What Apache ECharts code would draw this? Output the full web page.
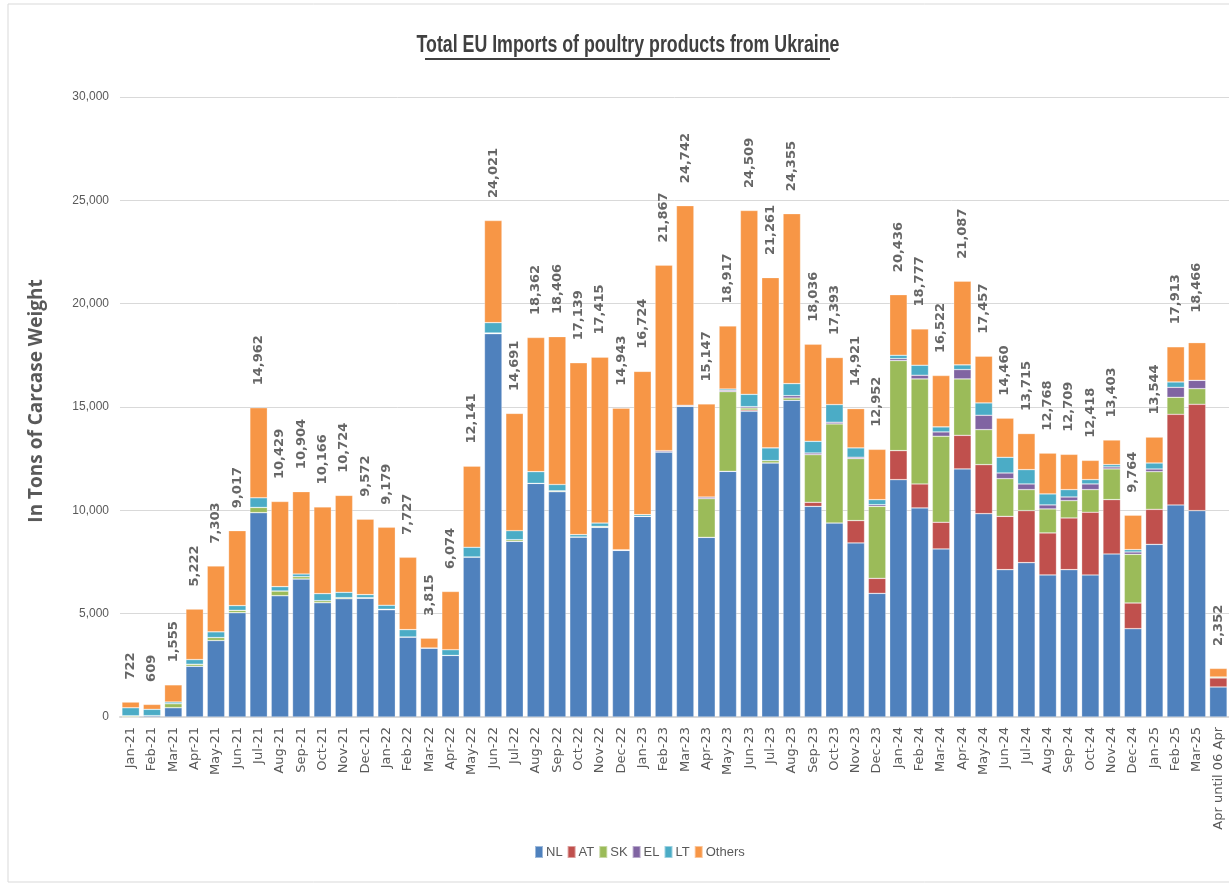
<!DOCTYPE html>
<html><head><meta charset="utf-8">
<script src="https://cdn.jsdelivr.net/npm/echarts@6/dist/echarts.min.js"></script>
<style>html,body{margin:0;padding:0;background:#fff}#c{width:1229px;height:886px}</style>
</head><body><div id="c"></div>
<script>
const categories = [
  'Jan-21','Feb-21','Mar-21','Apr-21','May-21','Jun-21','Jul-21','Aug-21','Sep-21','Oct-21','Nov-21','Dec-21',
  'Jan-22','Feb-22','Mar-22','Apr-22','May-22','Jun-22','Jul-22','Aug-22','Sep-22','Oct-22','Nov-22','Dec-22',
  'Jan-23','Feb-23','Mar-23','Apr-23','May-23','Jun-23','Jul-23','Aug-23','Sep-23','Oct-23','Nov-23','Dec-23',
  'Jan-24','Feb-24','Mar-24','Apr-24','May-24','Jun-24','Jul-24','Aug-24','Sep-24','Oct-24','Nov-24','Dec-24',
  'Jan-25','Feb-25','Mar-25','Apr until 06 Apr'
];
const totals = [
  722,609,1555,5222,7303,9017,14962,10429,10904,10166,10724,9572,
  9179,7727,3815,6074,12141,24021,14691,18362,18406,17139,17415,14943,
  16724,21867,24742,15147,18917,24509,21261,24355,18036,17393,14921,12952,
  20436,18777,16522,21087,17457,14460,13715,12768,12709,12418,13403,9764,
  13544,17913,18466,2352
];
const nl = [
  10,65,452,2456,3700,5050,9890,5871,6679,5533,5727,5745,
  5193,3872,3340,2981,7744,18552,8499,11306,10905,8712,9177,8063,
  9710,12826,15033,8693,11887,14791,12294,15324,10193,9390,8422,5982,
  11485,10116,8131,12003,9840,7129,7469,6873,7129,6873,7889,4274,
  8354,10261,9985,1452
];
const at = [
  0,0,0,0,0,0,0,0,0,0,0,0,
  0,0,0,0,0,0,0,0,0,0,0,0,
  0,0,0,0,0,60,0,0,194,0,1081,726,
  1404,1161,1291,1626,2372,2581,2517,2033,2501,3033,2630,1242,
  1694,4385,5145,436
];
const sk = [
  50,0,194,97,145,113,250,226,113,97,48,30,
  20,0,0,0,0,30,80,0,40,0,48,0,
  0,0,0,1872,3856,100,113,113,2307,4792,3001,3485,
  4356,5082,4162,2730,1694,1823,1016,1162,839,1097,1485,2356,
  1823,823,758,48
];
const el = [
  0,0,0,0,0,0,0,0,0,0,0,0,
  0,0,0,0,0,0,0,0,0,0,0,30,
  0,60,50,80,65,65,0,113,80,80,65,80,
  97,177,210,452,694,274,274,194,177,274,97,113,
  129,484,403,0
];
const lt = [
  387,306,80,226,275,226,468,210,129,339,258,145,
  194,355,0,274,468,500,436,565,306,113,160,0,
  80,0,0,0,65,597,613,581,565,855,452,242,
  161,484,242,226,597,758,694,532,355,210,113,113,
  290,258,0,0
];
const others = [
  275,238,829,2443,3183,3628,4354,4122,3983,4197,4691,3652,
  3772,3500,475,2819,3929,4939,5676,6491,7155,8314,8030,6850,
  6934,8981,9659,4502,3044,8896,8241,8224,4697,2276,1900,2437,
  2933,1757,2486,4050,2260,1895,1745,1974,1708,931,1189,1666,
  1254,1702,1823,416
];
const yTicks = [0,5000,10000,15000,20000,25000,30000];
const titleText = 'Total EU Imports of poultry products from Ukraine';

function fmt(v){ return String(Math.round(v)).replace(/\B(?=(\d{3})+(?!\d))/g, ','); }

const colors = {NL:'#4f81bd', AT:'#c0504d', SK:'#9bbb59', EL:'#8064a2', LT:'#4bacc6', Others:'#f79646'};
const seriesDefs = [['NL',nl],['AT',at],['SK',sk],['EL',el],['LT',lt],['Others',others]];

const chart = echarts.init(document.getElementById('c'), null, {renderer:'canvas'});
const series = seriesDefs.map(([name,data]) => ({
  name, type:'bar', stack:'total', data,
  barCategoryGap:'18%',
  itemStyle:{color:colors[name], borderColor:'rgba(255,255,255,0.45)', borderWidth:0.6},
  emphasis:{disabled:true}
}));
series.push({
  name:'Total', type:'scatter', data:totals, symbolSize:1,
  itemStyle:{color:'rgba(0,0,0,0)'},
  label:{show:true, position:'top', distance:22, rotate:90, align:'left', verticalAlign:'middle',
    formatter:p=>fmt(p.value), fontFamily:'DejaVu Sans', fontWeight:'bold', fontSize:13, color:'#404040'},
  emphasis:{disabled:true}, z:5
});

chart.setOption({
  animation:false,
  backgroundColor:'#ffffff',
  graphic:[
    {type:'rect', shape:{x:8,y:4,width:1240,height:878}, style:{fill:'none', stroke:'#d9d9d9', lineWidth:1}, silent:true},
    {type:'text', x:628, y:45, scaleX:0.74, silent:true,
      style:{text:titleText, fill:'#404040', font:'bold 24px "Liberation Sans", Arial, sans-serif',
        textAlign:'center', textVerticalAlign:'middle'}},
    {type:'line', shape:{x1:425,y1:59,x2:830,y2:59}, style:{stroke:'#404040', lineWidth:2}, silent:true}
  ],
  legend:{data:['NL','AT','SK','EL','LT','Others'], bottom:22, left:529, itemWidth:8, itemHeight:12, itemGap:4,
    icon:'rect', textStyle:{fontFamily:'Liberation Sans', fontSize:13, color:'#595959', padding:[0,0,0,-2]}},
  grid:{left:120, right:-4, top:97, bottom:169},
  xAxis:{type:'category', data:categories,
    axisLine:{lineStyle:{color:'#d9d9d9', width:2}}, axisTick:{show:false},
    axisLabel:{interval:0, rotate:90, margin:10, fontFamily:'DejaVu Sans', fontSize:13, color:'#595959'}},
  yAxis:{type:'value', min:yTicks[0], max:yTicks[yTicks.length-1], interval:yTicks[1]-yTicks[0],
    name:'In Tons of Carcase Weight', nameLocation:'middle', nameGap:74,
    nameTextStyle:{fontFamily:'Open Sans', fontWeight:'bold', fontSize:19, color:'#595959', padding:[0,0,0,12]},
    axisLine:{show:false}, axisTick:{show:false},
    splitLine:{lineStyle:{color:'#d9d9d9', width:1}},
    axisLabel:{formatter:v=>fmt(v), margin:11, fontFamily:'Liberation Sans', fontSize:12, color:'#595959'}},
  series
});
</script>
</body></html>
